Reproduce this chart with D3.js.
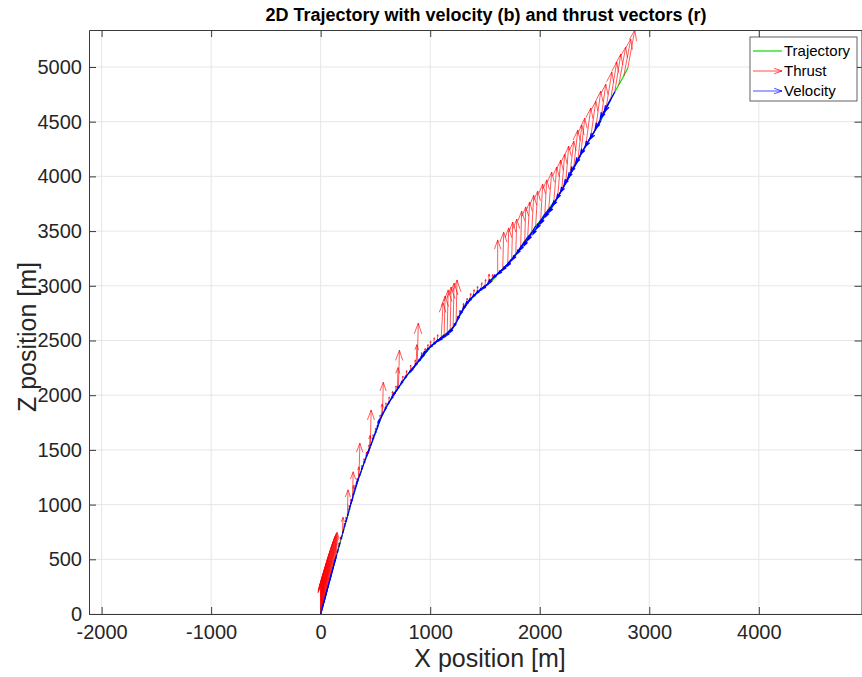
<!DOCTYPE html>
<html>
<head>
<meta charset="utf-8">
<script src="https://cdn.jsdelivr.net/npm/d3@7"></script>
<style>
  html, body { margin: 0; padding: 0; background: #fff; }
  svg { display: block; font-family: "Liberation Sans", Arial, Helvetica, sans-serif; }
</style>
</head>
<body>
<svg id="chart" width="862" height="677"></svg>
<script>
// Descent path samples, listed from touchdown upward (metres).
const posX = [
  0, 1, 2, 3, 5, 6, 8, 10, 12, 14, 17, 19, 22, 24, 27, 30, 33, 36, 40, 43,
  47, 50, 54, 58, 62, 66, 71, 75, 80, 85, 90, 95, 100, 105, 111, 116, 122, 128, 134, 140, 147,
  163, 178, 198, 213, 228, 243, 258, 273, 290, 297, 313, 330, 344, 350, 372, 393, 415, 437, 446, 453,
  476, 498, 521, 540, 557, 564, 593, 622, 652, 684, 700, 710, 747, 781, 818, 860, 872, 882,
  918, 950, 976, 1000, 1033, 1065,
  1100, 1127, 1155, 1182, 1209, 1236, 1265, 1300, 1332, 1364, 1395, 1427, 1465, 1500, 1532, 1564,
  1616, 1662, 1708, 1744, 1781, 1826, 1863, 1890, 1927, 1963, 2009, 2046, 2082, 2128, 2164, 2201,
  2237, 2274, 2310, 2347, 2374, 2420, 2466, 2511, 2557, 2603, 2648, 2685, 2721, 2767, 2804
];
const posZ = [
  0, 4, 8, 13, 18, 24, 30, 37, 45, 53, 62, 71, 80, 90, 100, 111, 122, 134, 146, 159,
  172, 186, 200, 215, 230, 246, 262, 279, 296, 314, 332, 351, 370, 390, 410, 431, 452, 474, 496, 519, 542,
  600, 655, 725, 780, 835, 885, 940, 995, 1050, 1075, 1130, 1185, 1235, 1252, 1310, 1370, 1430, 1490, 1512, 1527,
  1590, 1650, 1710, 1765, 1805, 1819, 1875, 1930, 1980, 2030, 2052, 2066, 2120, 2170, 2220, 2268, 2282, 2294,
  2335, 2372, 2408, 2441, 2470, 2498,
  2523, 2550, 2569, 2596, 2623, 2660, 2715, 2779, 2825, 2870, 2905, 2934, 2968, 2998, 3022, 3044,
  3108, 3153, 3199, 3245, 3290, 3354, 3409, 3446, 3491, 3546, 3601, 3656, 3702, 3766, 3811, 3875,
  3939, 4003, 4076, 4140, 4195, 4278, 4360, 4433, 4506, 4607, 4707, 4771, 4835, 4917, 4990
];

// Thrust vector at each sample (plotted length, metres).
const thrustU = [
  0, 0, 0, 0, 0, 0, 0, 0, 0, 0, 1, 1, 1, 1, 1, 1, 1, 1, 1, 1,
  2, 2, 2, 2, 2, 2, 2, 2, 2, 2, 3, 3, 3, 3, 3, 3, 3, 3, 3, 3, 3,
  4, 4, 6, 4, 4, 7, 4, 4, 7, 5, 4, 4, 5, 8, 4, 4, 4, 4, 5, 8,
  4, 4, 4, 4, 5, 8, 4, 4, 4, 4, 6, 9, 4, 4, 4, 4, 6, 9,
  4, 4, 4, 4, 4, 4,
  18, 9, 9, 9, 9, 9, 5, 5, 6, 6, 6, 6, 6, 6, 6, 6,
  0, 9, 9, 9, 9, 9, 9, 18, 18, 18, 18, 18, 27, 27, 27, 27,
  27, 37, 37, 37, 37, 46, 46, 46, 46, 55, 55, 55, 64, 64, 64
];
const thrustW = [
  262, 265, 268, 270, 272, 274, 275, 276, 276, 277, 277, 277, 278, 278, 278, 278, 277, 277, 276, 276,
  275, 274, 273, 272, 270, 269, 268, 266, 265, 262, 260, 258, 255, 252, 248, 244, 240, 235, 228, 218, 205,
  50, 50, 160, 50, 50, 250, 55, 55, 250, 100, 50, 55, 110, 310, 50, 50, 50, 55, 120, 338,
  50, 50, 55, 55, 115, 300, 55, 55, 55, 55, 200, 345, 55, 55, 55, 55, 180, 365,
  55, 55, 55, 55, 55, 55,
  320, 357, 393, 393, 402, 393, 60, 60, 60, 60, 60, 60, 60, 60, 85, 60,
  311, 338, 330, 338, 320, 329, 312, 320, 338, 320, 329, 312, 338, 320, 338, 329,
  338, 320, 347, 329, 338, 347, 329, 347, 338, 347, 338, 347, 347, 338, 348
];

// Velocity vector at each sample (plotted length, metres); zero means no arrow.
const velU = [
  0, -1, -1, -1, -1, -2, -2, -2, -2, -3, -3, -3, -3, -4, -4, -4, -4, -5, -5, -5,
  -5, -6, -6, -6, -6, -7, -7, -7, -7, -8, -8, -8, -8, -9, -9, -9, -9, -10, -10, -10, -10,
  -10, -10, -11, -11, -12, -12, -12, -13, -16, -16, -17, -17, -18, -18, -18, -19, -19, -20, -20, -21,
  -21, -22, -22, -23, -30, -32, -33, -34, -35, -36, -42, -44, -45, -46, -48, -49, -50, -50,
  -56, -58, -60, -62, -64, -66,
  -72, -70, -66, -62, -56, -50, -48, -52, -58, -64, -70, -74, -78, -80, -82, -84,
  -85, -88, -85, -80, -75, -72, -70, -68, -68, -68, -70, -72, -74, -76, -78, -80,
  -82, -84, -86, -88, -90, -92, -94, -96, -98, -96, -95, -94, 0, 0, 0
];
const velW = [
  0, -2, -3, -4, -5, -6, -7, -8, -9, -10, -11, -12, -13, -14, -15, -16, -16, -17, -18, -19,
  -19, -20, -21, -22, -22, -23, -24, -25, -25, -26, -27, -28, -28, -29, -30, -31, -31, -32, -33, -34, -34,
  -35, -36, -37, -38, -39, -40, -41, -42, -44, -44, -45, -46, -47, -48, -48, -49, -50, -51, -51, -52,
  -52, -53, -54, -55, -55, -55, -55, -56, -57, -58, -56, -57, -58, -59, -60, -61, -62, -62,
  -60, -60, -59, -59, -58, -58,
  -58, -62, -66, -70, -75, -80, -84, -82, -78, -74, -71, -69, -67, -66, -66, -68,
  -75, -80, -90, -100, -108, -112, -115, -118, -122, -125, -128, -130, -132, -135, -138, -140,
  -143, -146, -148, -150, -153, -156, -158, -161, -164, -170, -175, -178, 0, 0, 0
];

const xTicks = [-2000, -1000, 0, 1000, 2000, 3000, 4000];
const zTicks = [0, 500, 1000, 1500, 2000, 2500, 3000, 3500, 4000, 4500, 5000];
const legendLabels = ["Trajectory", "Thrust", "Velocity"];
const titleText = "2D Trajectory with velocity (b) and thrust vectors (r)";
const xLabelText = "X position [m]";
const zLabelText = "Z position [m]";

const colTraj = "#00dd00", colThrust = "#ff0000", colVel = "#0000ff";

const svg = d3.select("#chart");
const box = { left: 89, right: 862, top: 30, bottom: 614 };

const x = d3.scaleLinear().domain([-2115, 4942]).range([box.left, box.right]);
const y = d3.scaleLinear().domain([0, 5338]).range([box.bottom, box.top]);

const samples = posX.map((v, i) => ({
  x: v, z: posZ[i], tu: thrustU[i], tw: thrustW[i], vu: velU[i], vw: velW[i]
}));

// grid
const grid = svg.append("g").attr("stroke", "#e6e6e6").attr("stroke-width", 1);
grid.selectAll("line.gx").data(xTicks).join("line")
  .attr("x1", d => x(d)).attr("x2", d => x(d))
  .attr("y1", box.top).attr("y2", box.bottom);
grid.selectAll("line.gz").data(zTicks).join("line")
  .attr("x1", box.left).attr("x2", box.right)
  .attr("y1", d => y(d)).attr("y2", d => y(d));

// quiver-style arrow: shaft plus two head strokes
function arrowPath(x0, y0, x1, y1) {
  const dx = x1 - x0, dy = y1 - y0, a = 0.27, b = 0.35;
  const hx1 = x1 - a * (dx + b * dy), hy1 = y1 - a * (dy - b * dx);
  const hx2 = x1 - a * (dx - b * dy), hy2 = y1 - a * (dy + b * dx);
  return `M${x0},${y0}L${x1},${y1}M${hx1},${hy1}L${x1},${y1}L${hx2},${hy2}`;
}

svg.append("clipPath").attr("id", "plotClip").append("rect")
  .attr("x", box.left).attr("y", box.top - 1)
  .attr("width", box.right - box.left).attr("height", box.bottom - box.top + 1);

const plot = svg.append("g").attr("clip-path", "url(#plotClip)");

// trajectory
plot.append("path").datum(samples)
  .attr("fill", "none").attr("stroke", colTraj).attr("stroke-width", 1.2)
  .attr("d", d3.line().x(d => x(d.x)).y(d => y(d.z)));

// thrust vectors
plot.append("g").selectAll("path").data(samples.filter(d => d.tu || d.tw)).join("path")
  .attr("fill", "none").attr("stroke", colThrust).attr("stroke-width", 0.65)
  .attr("d", d => arrowPath(x(d.x), y(d.z), x(d.x + d.tu), y(d.z + d.tw)));

// velocity vectors
plot.append("g").selectAll("path").data(samples.filter(d => d.vu || d.vw)).join("path")
  .attr("fill", "none").attr("stroke", colVel).attr("stroke-width", 1.3)
  .attr("d", d => arrowPath(x(d.x), y(d.z), x(d.x + d.vu), y(d.z + d.vw)));

// axes (box with inward ticks)
const axisCol = "#3a3a3a";
function styleAxis(g) {
  g.select(".domain").attr("stroke", axisCol).attr("stroke-width", 1);
  g.selectAll(".tick line").attr("stroke", axisCol).attr("stroke-width", 1);
  g.selectAll(".tick text").attr("fill", "#262626").attr("font-size", 20)
    .attr("font-family", "'Liberation Sans', Arial, sans-serif");
}
const plain = d => String(d);
svg.append("g").attr("transform", `translate(0,${box.bottom})`)
  .call(d3.axisBottom(x).tickValues(xTicks).tickFormat(plain)
    .tickSizeInner(-7).tickSizeOuter(0).tickPadding(11))
  .call(styleAxis);
svg.append("g").attr("transform", `translate(0,${box.top})`)
  .call(d3.axisTop(x).tickValues(xTicks).tickSizeInner(-7).tickSizeOuter(0).tickFormat(""))
  .call(styleAxis);
svg.append("g").attr("transform", `translate(${box.left},0)`)
  .call(d3.axisLeft(y).tickValues(zTicks).tickFormat(plain)
    .tickSizeInner(-7).tickSizeOuter(0).tickPadding(7))
  .call(styleAxis);
svg.append("g").attr("transform", `translate(${box.right - 0.5},0)`)
  .call(d3.axisRight(y).tickValues(zTicks).tickSizeInner(-7).tickSizeOuter(0).tickFormat(""))
  .call(styleAxis);

// title and axis labels
svg.append("text").attr("x", 486).attr("y", 21).attr("text-anchor", "middle")
  .attr("font-size", 18).attr("font-weight", "bold").attr("fill", "#000").text(titleText);
svg.append("text").attr("x", 490).attr("y", 667).attr("text-anchor", "middle")
  .attr("font-size", 25).attr("fill", "#262626").text(xLabelText);
svg.append("text").attr("transform", "translate(36,337) rotate(-90)").attr("text-anchor", "middle")
  .attr("font-size", 25).attr("fill", "#262626").text(zLabelText);

// legend
const lg = svg.append("g").attr("transform", "translate(750,37)");
lg.append("rect").attr("width", 107).attr("height", 64)
  .attr("fill", "#fff").attr("stroke", "#3a3a3a").attr("stroke-width", 0.8);
const rows = [14, 34, 54];
lg.append("line").attr("x1", 3).attr("x2", 32).attr("y1", rows[0]).attr("y2", rows[0])
  .attr("stroke", colTraj).attr("stroke-width", 1.2);
lg.append("path").attr("fill", "none").attr("stroke", colThrust).attr("stroke-width", 0.7)
  .attr("d", arrowPath(3, rows[1], 32, rows[1]));
lg.append("path").attr("fill", "none").attr("stroke", colVel).attr("stroke-width", 0.7)
  .attr("d", arrowPath(3, rows[2], 32, rows[2]));
lg.selectAll("text.lab").data(legendLabels).join("text")
  .attr("x", 34).attr("y", (d, i) => rows[i]).attr("dy", "0.36em")
  .attr("font-size", 15).attr("fill", "#000").text(d => d);
</script>
</body>
</html>
